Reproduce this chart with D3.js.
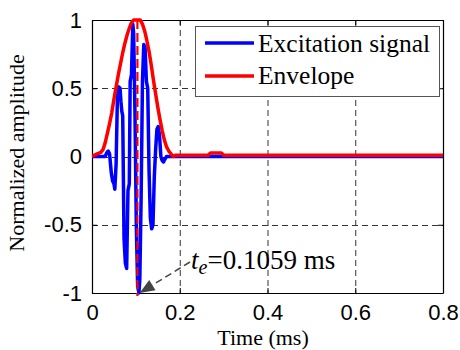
<!DOCTYPE html>
<html>
<head>
<meta charset="utf-8">
<script src="https://cdn.jsdelivr.net/npm/d3@7"></script>
<style>
  html, body { margin: 0; padding: 0; background: #fff; }
  svg { display: block; }
</style>
</head>
<body>
<svg id="chart" width="460" height="350"></svg>
<script>
// ---- data ----
const signalTime = [0, 0.030, 0.034, 0.037, 0.040, 0.044, 0.047, 0.050, 0.052, 0.055, 0.058, 0.061, 0.064, 0.066,
  0.068, 0.070, 0.073, 0.076, 0.079, 0.082, 0.085, 0.087, 0.090, 0.093, 0.095, 0.098, 0.101, 0.104, 0.107,
  0.109, 0.112, 0.115, 0.118, 0.121, 0.124, 0.127, 0.130, 0.133, 0.136, 0.139, 0.142, 0.145, 0.148, 0.151,
  0.154, 0.157, 0.160, 0.163, 0.166, 0.170, 0.180, 0.800];
const signalValue = [0, 0.0, 0.03, 0.04, 0.02, -0.12, -0.18, -0.2, -0.24, -0.05, 0.45, 0.51, 0.5, 0.4,
  0.33, 0.3, -0.6, -0.78, -0.82, -0.25, -0.2, 0.55, 0.6, 0.97, 0.9, 0.3, -0.5, -0.95, -1.0,
  -0.9, -0.3, 0.55, 0.82, 0.8, 0.55, 0.5, -0.1, -0.45, -0.53, -0.5, -0.15, 0.05, 0.2, 0.22,
  0.15, 0.0, -0.03, -0.04, -0.02, 0.0, 0.0, 0.0];

const envelopeTime = [0, 0.012, 0.020, 0.025, 0.030, 0.035, 0.040, 0.045, 0.050, 0.055, 0.060, 0.065, 0.070,
  0.075, 0.080, 0.085, 0.090, 0.095, 0.110, 0.115, 0.120, 0.125, 0.130, 0.135, 0.140, 0.145, 0.150, 0.155,
  0.160, 0.165, 0.170, 0.175, 0.180, 0.185, 0.190, 0.265, 0.270, 0.295, 0.300, 0.800];
const envelopeValue = [0, 0.02, 0.03, 0.05, 0.10, 0.17, 0.24, 0.32, 0.42, 0.51, 0.60, 0.68, 0.76,
  0.83, 0.89, 0.94, 0.98, 1.0, 1.0, 0.97, 0.92, 0.85, 0.77, 0.67, 0.56, 0.46, 0.36, 0.27,
  0.19, 0.12, 0.07, 0.04, 0.02, 0.0, 0.01, 0.01, 0.025, 0.025, 0.01, 0.01];

const markerTime = 0.1035;           // red dashed vertical
const annotationText = "=0.1059 ms";

const xTicks = [0, 0.2, 0.4, 0.6, 0.8];
const xTickLabels = ["0", "0.2", "0.4", "0.6", "0.8"];
const yTicks = [-1, -0.5, 0, 0.5, 1];
const yTickLabels = ["-1", "-0.5", "0", "0.5", "1"];
const legendLabels = ["Excitation signal", "Envelope"];
const seriesColors = ["#0000ff", "#ff0000"];

// ---- layout ----
const svg = d3.select("#chart");
const L = 92, R = 443, T = 20, B = 293;
const x = d3.scaleLinear().domain([0, 0.8]).range([L, R]);
const y = d3.scaleLinear().domain([-1, 1]).range([B, T]);

svg.append("rect").attr("width", 460).attr("height", 350).attr("fill", "#fff");

svg.append("defs").append("clipPath").attr("id", "clip")
  .append("rect").attr("x", L).attr("y", T - 2).attr("width", R - L).attr("height", B - T + 4);

// grid
const grid = svg.append("g").attr("stroke", "#333").attr("stroke-width", 1)
  .attr("stroke-dasharray", "6,4").attr("fill", "none");
xTicks.filter(v => v > 0 && v < 0.8).forEach(v => {
  grid.append("line").attr("x1", x(v) + 0.5).attr("x2", x(v) + 0.5).attr("y1", T).attr("y2", B);
});
yTicks.filter(v => v > -1 && v < 1).forEach(v => {
  grid.append("line").attr("x1", L).attr("x2", R).attr("y1", Math.round(y(v)) + 0.5).attr("y2", Math.round(y(v)) + 0.5);
});

// axes
const fmtX = (d, i) => xTickLabels[i];
const fmtY = (d, i) => yTickLabels[i];
const axB = svg.append("g").attr("transform", `translate(0,${B})`)
  .call(d3.axisBottom(x).tickValues(xTicks).tickFormat(fmtX).tickSizeInner(-5).tickSizeOuter(0).tickPadding(11));
const axT = svg.append("g").attr("transform", `translate(0,${T})`)
  .call(d3.axisTop(x).tickValues(xTicks).tickFormat("").tickSizeInner(-5).tickSizeOuter(0));
const axL = svg.append("g").attr("transform", `translate(${L},0)`)
  .call(d3.axisLeft(y).tickValues(yTicks).tickFormat(fmtY).tickSizeInner(-5).tickSizeOuter(0).tickPadding(10));
const axR = svg.append("g").attr("transform", `translate(${R},0)`)
  .call(d3.axisRight(y).tickValues(yTicks).tickFormat("").tickSizeInner(-5).tickSizeOuter(0));
[axB, axT, axL, axR].forEach(a => {
  a.select(".domain").attr("stroke", "#000").attr("stroke-width", 1.2);
  a.selectAll(".tick line").attr("stroke", "#000");
  a.selectAll("text").attr("font-family", "'Liberation Sans', Arial, sans-serif")
    .attr("font-size", 22).attr("fill", "#000");
});

// series
const plot = svg.append("g").attr("clip-path", "url(#clip)");
const line = d3.line().x(d => x(d[0])).y(d => y(d[1]));
const sig = signalTime.map((t, i) => [t, signalValue[i]]);
const env = envelopeTime.map((t, i) => [t, envelopeValue[i]]);
plot.append("path").datum(sig).attr("d", line).attr("fill", "none")
  .attr("stroke", seriesColors[0]).attr("stroke-width", 3.5).attr("stroke-linejoin", "round");
plot.append("path").datum(env).attr("d", line).attr("fill", "none")
  .attr("stroke", seriesColors[1]).attr("stroke-width", 3.5).attr("stroke-linejoin", "round");

// red dashed vertical marker
svg.append("line").attr("x1", x(markerTime)).attr("x2", x(markerTime))
  .attr("y1", y(1)).attr("y2", y(-1) + 3)
  .attr("stroke", "#ff0000").attr("stroke-width", 2.2).attr("stroke-dasharray", "9,4");

// annotation arrow
const tipX = x(0.1085), tipY = y(-1);
const startX = 190, startY = 262;
const ang = Math.atan2(tipY - startY, tipX - startX);
const headLen = 15, headW = 6;
const bx = tipX - headLen * Math.cos(ang), by = tipY - headLen * Math.sin(ang);
svg.append("line").attr("x1", startX).attr("y1", startY).attr("x2", bx).attr("y2", by)
  .attr("stroke", "#444").attr("stroke-width", 1.5).attr("stroke-dasharray", "7,4");
svg.append("polygon").attr("points", [
  [tipX, tipY],
  [bx + headW * Math.sin(ang), by - headW * Math.cos(ang)],
  [bx - headW * Math.sin(ang), by + headW * Math.cos(ang)]
].map(p => p.join(",")).join(" ")).attr("fill", "#444");

const ann = svg.append("text").attr("x", 191).attr("y", 269)
  .attr("font-family", "'Liberation Serif', 'Times New Roman', serif").attr("font-size", 27).attr("fill", "#000");
ann.append("tspan").attr("font-style", "italic").text("t");
ann.append("tspan").attr("font-style", "italic").attr("font-size", 20).attr("dy", 5).text("e");
ann.append("tspan").attr("dy", -5).text(annotationText);

// legend
const lg = svg.append("g");
lg.append("rect").attr("x", 195.5).attr("y", 26.5).attr("width", 244).attr("height", 70)
  .attr("fill", "#fff").attr("stroke", "#555").attr("stroke-width", 1);
const legY = [43, 76], legBase = [52, 84];
legendLabels.forEach((lab, i) => {
  lg.append("line").attr("x1", 205).attr("x2", 254).attr("y1", legY[i]).attr("y2", legY[i])
    .attr("stroke", seriesColors[i]).attr("stroke-width", 3.5);
  lg.append("text").attr("x", 258).attr("y", legBase[i]).text(lab)
    .attr("font-family", "'Liberation Serif', 'Times New Roman', serif").attr("font-size", 25.5).attr("fill", "#000");
});

// axis labels
svg.append("text").attr("x", 263).attr("y", 345).attr("text-anchor", "middle")
  .attr("font-family", "'Liberation Serif', 'Times New Roman', serif").attr("font-size", 22).text("Time (ms)");
svg.append("text").attr("transform", "translate(24,153) rotate(-90)").attr("text-anchor", "middle")
  .attr("font-family", "'Liberation Serif', 'Times New Roman', serif").attr("font-size", 22).text("Normalized amplitude");
</script>
</body>
</html>
